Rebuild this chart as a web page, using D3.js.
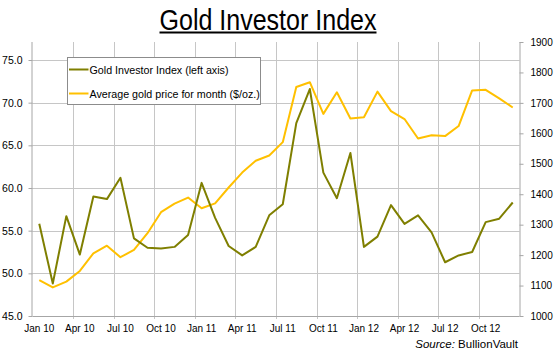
<!DOCTYPE html>
<html><head><meta charset="utf-8">
<script src="https://cdn.jsdelivr.net/npm/d3@7"></script>
<style>body{margin:0;background:#fff}svg{display:block;font-family:"Liberation Sans",Arial,sans-serif}</style>
</head><body><svg id="c" width="555" height="360"></svg>
<script>
const months = ["Jan 10","Feb 10","Mar 10","Apr 10","May 10","Jun 10","Jul 10","Aug 10","Sep 10","Oct 10","Nov 10","Dec 10",
"Jan 11","Feb 11","Mar 11","Apr 11","May 11","Jun 11","Jul 11","Aug 11","Sep 11","Oct 11","Nov 11","Dec 11",
"Jan 12","Feb 12","Mar 12","Apr 12","May 12","Jun 12","Jul 12","Aug 12","Sep 12","Oct 12","Nov 12","Dec 12"];
const investorIndex = [55.8,48.8,56.7,52.2,59.0,58.7,61.2,54.1,53.0,52.9,53.1,54.5,
60.6,56.5,53.2,52.1,53.1,56.8,58.1,67.6,71.6,61.8,58.8,64.1,
53.1,54.3,58.0,55.8,56.8,54.8,51.3,52.1,52.5,56.0,56.4,58.3];
const goldPrice = [1118,1094,1113,1148,1206,1231,1193,1217,1272,1341,1369,1389,
1354,1370,1422,1471,1510,1527,1571,1752,1768,1664,1735,1649,
1653,1737,1673,1647,1583,1594,1591,1624,1741,1743,1715,1685];
const leftTicks = [45,50,55,60,65,70,75];
const rightTicks = [1000,1100,1200,1300,1400,1500,1600,1700,1800,1900];
const labelMonths = ["Jan 10","Apr 10","Jul 10","Oct 10","Jan 11","Apr 11","Jul 11","Oct 11","Jan 12","Apr 12","Jul 12","Oct 12"];
const seriesNames = ["Gold Investor Index (left axis)","Average gold price for month ($/oz.)"];

const svg = d3.select("#c");
const L = 32.5, R = 519.5, T = 42, B = 316;
const x = d3.scaleBand().domain(months).range([L, R]).padding(0);
const yL = d3.scaleLinear().domain([45, 45 + (B - T) * 30 / 256]).range([B, T]);
const yR = d3.scaleLinear().domain([1000, 1900]).range([B, T]);
const gridC = "#c6c6c6", axisC = "#a6a6a6";

// horizontal gridlines
svg.append("g").selectAll("line").data(leftTicks.slice(1)).join("line")
  .attr("x1", L).attr("x2", R).attr("y1", d => Math.round(yL(d)) + 0.5).attr("y2", d => Math.round(yL(d)) + 0.5)
  .attr("stroke", gridC).attr("stroke-width", 1);
// vertical gridlines at band boundaries every 3 months
const vIdx = d3.range(3, 36, 3);
svg.append("g").selectAll("line").data(vIdx).join("line")
  .attr("x1", i => Math.round(x(months[i])) + 0.5).attr("x2", i => Math.round(x(months[i])) + 0.5)
  .attr("y1", T).attr("y2", B + 3)
  .attr("stroke", gridC).attr("stroke-width", 1);

// left axis
const gl = svg.append("g").attr("transform", `translate(${L},0)`)
  .call(d3.axisLeft(yL).tickValues(leftTicks).tickFormat(d3.format(".1f")).tickSize(4).tickPadding(6));
gl.select(".domain").attr("d", `M-0.5,${T}V${B}`).attr("stroke", axisC);
gl.selectAll(".tick line").attr("stroke", axisC);
gl.selectAll(".tick text").attr("font-size", 10.5).attr("fill", "#000").attr("font-family", "Liberation Sans, Arial");

// right axis
const gr = svg.append("g").attr("transform", `translate(${R},0)`)
  .call(d3.axisRight(yR).tickValues(rightTicks).tickFormat(d3.format("d")).tickSize(4).tickPadding(7));
gr.select(".domain").attr("d", `M0.5,${T}V${B}`).attr("stroke", axisC);
gr.selectAll(".tick line").attr("stroke", axisC);
gr.selectAll(".tick text").attr("font-size", 10).attr("fill", "#000").attr("font-family", "Liberation Sans, Arial");

// bottom axis line
svg.append("line").attr("x1", L).attr("x2", R).attr("y1", B + 0.5).attr("y2", B + 0.5).attr("stroke", axisC);
const gb = svg.append("g").attr("transform", `translate(0,${B})`)
  .call(d3.axisBottom(x).tickValues(labelMonths).tickSize(0).tickPadding(9));
gb.select(".domain").remove();
gb.selectAll(".tick text").attr("font-size", 10).attr("fill", "#000").attr("font-family", "Liberation Sans, Arial");

// lines
const cx = m => x(m) + x.bandwidth() / 2;
svg.append("path").datum(goldPrice)
  .attr("d", d3.line().x((d, i) => cx(months[i])).y(d => yR(d)))
  .attr("fill", "none").attr("stroke", "#ffc000").attr("stroke-width", 2).attr("stroke-linejoin", "round");
svg.append("path").datum(investorIndex)
  .attr("d", d3.line().x((d, i) => cx(months[i])).y(d => yL(d)))
  .attr("fill", "none").attr("stroke", "#7f7f00").attr("stroke-width", 2).attr("stroke-linejoin", "round");

// legend
const lg = svg.append("g");
lg.append("rect").attr("x", 67.5).attr("y", 57.5).attr("width", 193).attr("height", 47)
  .attr("fill", "#fff").attr("stroke", "#8c8c8c");
const colors = ["#7f7f00", "#ffc000"];
seriesNames.forEach((n, i) => {
  const yy = 69.5 + i * 24;
  lg.append("line").attr("x1", 69).attr("x2", 88.5).attr("y1", yy).attr("y2", yy)
    .attr("stroke", colors[i]).attr("stroke-width", 2);
  lg.append("text").attr("x", 89.5).attr("y", yy + 4).attr("font-size", 10.7).text(n);
});

// title
svg.append("text").attr("x", 268).attr("y", 29.5).attr("text-anchor", "middle")
  .attr("font-size", 29).attr("textLength", 217).attr("lengthAdjust", "spacingAndGlyphs").text("Gold Investor Index");
svg.append("line").attr("x1", 159.5).attr("x2", 376.5).attr("y1", 32.5).attr("y2", 32.5).attr("stroke", "#000").attr("stroke-width", 2);

// source
const src = svg.append("text").attr("x", 518).attr("y", 347.5).attr("text-anchor", "end").attr("font-size", 11.5);
src.append("tspan").attr("font-style", "italic").text("Source:");
src.append("tspan").text(" BullionVault");
</script></body></html>
